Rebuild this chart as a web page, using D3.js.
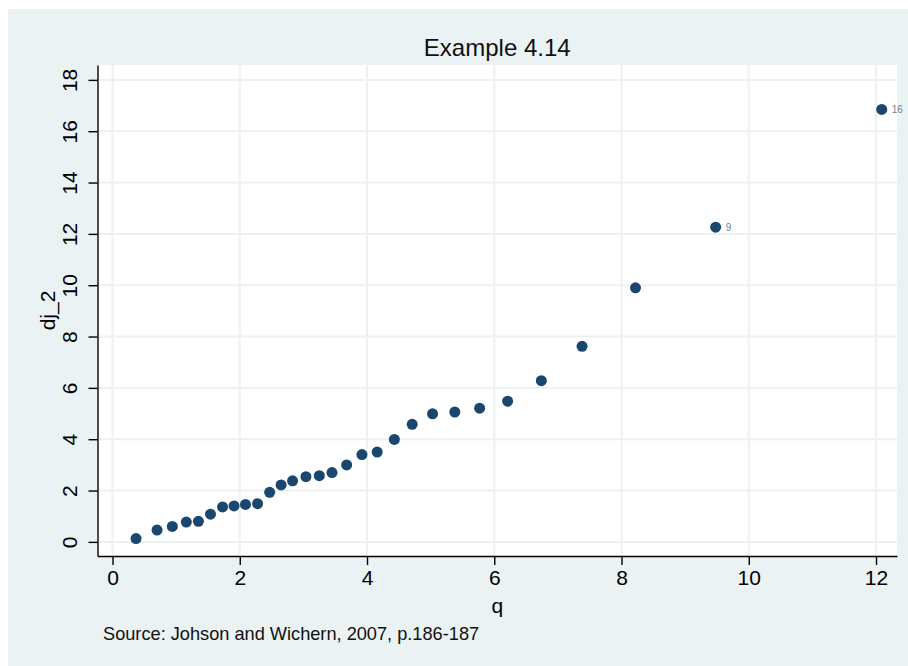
<!DOCTYPE html>
<html>
<head>
<meta charset="utf-8">
<script src="https://cdn.jsdelivr.net/npm/d3@7"></script>
<style>
  html, body { margin: 0; padding: 0; background: #ffffff; }
  svg { display: block; font-family: "Liberation Sans", Arial, sans-serif; }
</style>
</head>
<body>
<div id="chart"></div>
<script>
// chi-square quantiles (q) and ordered squared distances (dj_2)
const q = [0.37, 0.70, 0.94, 1.16, 1.35, 1.54, 1.73, 1.91, 2.09, 2.28,
           2.47, 2.65, 2.83, 3.04, 3.25, 3.45, 3.68, 3.92, 4.16, 4.43,
           4.71, 5.03, 5.38, 5.77, 6.21, 6.74, 7.38, 8.22, 9.48, 12.09];
const dj2 = [0.13, 0.46, 0.60, 0.77, 0.80, 1.08, 1.36, 1.40, 1.46, 1.49,
             1.93, 2.22, 2.38, 2.54, 2.58, 2.70, 3.00, 3.40, 3.50, 3.99,
             4.58, 4.99, 5.06, 5.21, 5.48, 6.28, 7.62, 9.90, 12.26, 16.85];
const obsLabel = ["", "", "", "", "", "", "", "", "", "",
                  "", "", "", "", "", "", "", "", "", "",
                  "", "", "", "", "", "", "", "", "9", "16"];
const xTicks = [0, 2, 4, 6, 8, 10, 12];
const yTicks = [0, 2, 4, 6, 8, 10, 12, 14, 16, 18];

const width = 908, height = 666;
const plot = { left: 97.5, right: 897, top: 65, bottom: 556 };

const svg = d3.select('#chart').append('svg')
  .attr('width', width)
  .attr('height', height);

// outer background
svg.append('rect')
  .attr('x', 8).attr('y', 9)
  .attr('width', width - 8).attr('height', height - 9)
  .attr('fill', '#eaf2f3');

svg.append('rect')
  .attr('x', plot.left).attr('y', plot.top)
  .attr('width', plot.right - plot.left).attr('height', plot.bottom - plot.top)
  .attr('fill', '#ffffff');

const x = d3.scaleLinear().domain([-0.236, 12.33]).range([plot.left, plot.right]);
const y = d3.scaleLinear().domain([-0.55, 18.58]).range([plot.bottom, plot.top]);

// grid
svg.append('g')
  .selectAll('line')
  .data(yTicks)
  .enter()
  .append('line')
  .attr('x1', plot.left).attr('x2', plot.right)
  .attr('y1', d => y(d)).attr('y2', d => y(d))
  .attr('stroke', '#eaf2f3').attr('stroke-width', 2);

svg.append('g')
  .selectAll('line')
  .data(xTicks)
  .enter()
  .append('line')
  .attr('y1', plot.top).attr('y2', plot.bottom)
  .attr('x1', d => x(d)).attr('x2', d => x(d))
  .attr('stroke', '#eaf2f3').attr('stroke-width', 2);

// axes
const xAxis = svg.append('g')
  .attr('transform', 'translate(0,' + plot.bottom + ')')
  .call(d3.axisBottom(x).tickValues(xTicks).tickSize(9).tickPadding(5).tickSizeOuter(0));
xAxis.select('.domain').attr('stroke', '#000').attr('stroke-width', 1.4);
xAxis.selectAll('.tick line').attr('stroke', '#000').attr('stroke-width', 1.4);
xAxis.selectAll('.tick text')
  .attr('fill', '#000')
  .style('font-size', '21px')
  .style('font-family', '"Liberation Sans", Arial, sans-serif');

const yAxis = svg.append('g')
  .attr('transform', 'translate(' + plot.left + ',0)')
  .call(d3.axisLeft(y).tickValues(yTicks).tickSize(9).tickSizeOuter(0));
yAxis.select('.domain').attr('stroke', '#000').attr('stroke-width', 1.4);
yAxis.selectAll('.tick line').attr('stroke', '#000').attr('stroke-width', 1.4);
yAxis.selectAll('.tick text')
  .attr('fill', '#000')
  .attr('x', 0).attr('dy', 0)
  .attr('transform', 'translate(-21,0) rotate(-90)')
  .style('text-anchor', 'middle')
  .style('font-size', '21px')
  .style('font-family', '"Liberation Sans", Arial, sans-serif');

// points
svg.append('g')
  .selectAll('circle')
  .data(q)
  .enter()
  .append('circle')
  .attr('cx', d => x(d))
  .attr('cy', (d, i) => y(dj2[i]))
  .attr('r', 5.5)
  .attr('fill', '#1a476f');

svg.append('g')
  .selectAll('text')
  .data(q)
  .enter()
  .append('text')
  .attr('x', d => x(d) + 10)
  .attr('y', (d, i) => y(dj2[i]))
  .attr('dy', '0.35em')
  .text((d, i) => obsLabel[i])
  .attr('fill', '#6e8193')
  .style('font-size', '10px');

// titles
svg.append('text')
  .attr('x', (plot.left + plot.right) / 2)
  .attr('y', 56)
  .style('text-anchor', 'middle')
  .style('font-size', '24px')
  .attr('fill', '#111')
  .text('Example 4.14');

svg.append('text')
  .attr('x', (plot.left + plot.right) / 2)
  .attr('y', 613)
  .style('text-anchor', 'middle')
  .style('font-size', '21px')
  .attr('fill', '#000')
  .text('q');

svg.append('text')
  .attr('transform', 'translate(55,' + (plot.top + plot.bottom) / 2 + ') rotate(-90)')
  .style('text-anchor', 'middle')
  .style('font-size', '21px')
  .attr('fill', '#000')
  .text('dj_2');

svg.append('text')
  .attr('x', 103)
  .attr('y', 640)
  .style('font-size', '18.2px')
  .attr('fill', '#111')
  .text('Source: Johson and Wichern, 2007, p.186-187');
</script>
</body>
</html>
